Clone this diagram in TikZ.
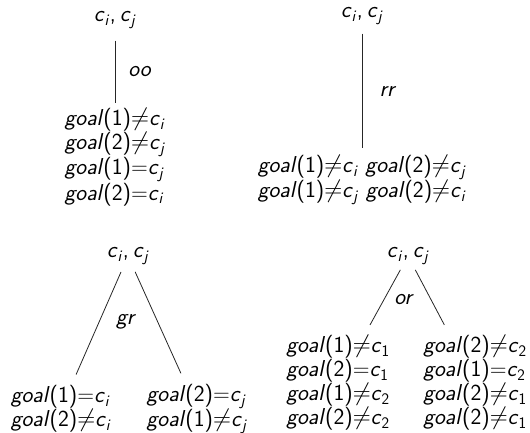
\documentclass[tikz,border=0pt]{standalone}
\usetikzlibrary{positioning}
\newcommand{\gl}[3]{\textit{goal}(#1)#2\textit{c}\textsubscript{#3}}
\newcommand{\cij}{\textit{c}\textsubscript{\textit{i}},\thinspace\textit{c}\textsubscript{\textit{j}}}

\begin{document}
\begin{tikzpicture}[
      x=1pt, y=-1pt,
      every node/.style={font=\fontsize{23}{21}\selectfont\sffamily, inner sep=0pt, outer sep=0pt},
      state/.style={anchor=center},
      leaf/.style={align=left, anchor=center},
      branch/.style={draw, line width=0.8pt, black!85}
    ]
      \useasboundingbox (0,0) rectangle (530,432);

      % oo
      \node[state] (ooRoot) at (115,20) {\cij};
      \node[leaf] (ooLeaf) at (115,157) {\gl{1}{$\neq$}{\textit{i}}\\\gl{2}{$\neq$}{\textit{j}}\\\gl{1}{=}{\textit{j}}\\\gl{2}{=}{\textit{i}}};
      \draw[branch, shorten <=12pt, shorten >=5pt] (ooRoot) -- (ooLeaf);
      \node (ooLabel) at (140,72) {\textit{oo}};

      % rr
      \node[state] (rrRoot) at (362,16) {\cij};
      \node[leaf, align=center] (rrLeaf) at (362,180) {\gl{1}{$\neq$}{\textit{i}} \gl{2}{$\neq$}{\textit{j}}\\\gl{1}{$\neq$}{\textit{j}} \gl{2}{$\neq$}{\textit{i}}};
      \draw[branch, shorten <=9pt, shorten >=7pt] (rrRoot) -- (rrLeaf);
      \node (rrLabel) at (388,91) {\textit{rr}};

      % gr
      \node[state] (grRoot) at (128,256) {\cij};
      \node[leaf] (grLeft) at (61,409) {\gl{1}{=}{\textit{i}}\\\gl{2}{$\neq$}{\textit{i}}};
      \node[leaf] (grRight) at (197,409) {\gl{2}{=}{\textit{j}}\\\gl{1}{$\neq$}{\textit{j}}};
      \draw[branch, shorten <=8pt, shorten >=12pt] (grRoot) -- (grLeft);
      \draw[branch, shorten <=8pt, shorten >=12pt] (grRoot) -- (grRight);
      \node (grLabel) at (126,322) {\textit{gr}};

      % or
      \node[state] (orRoot) at (408,256) {\cij};
      \node[leaf] (orLeft) at (338,383) {\gl{1}{$\neq$}{1}\\\gl{2}{=}{1}\\\gl{1}{$\neq$}{2}\\\gl{2}{$\neq$}{2}};
      \node[leaf] (orRight) at (475,383) {\gl{2}{$\neq$}{2}\\\gl{1}{=}{2}\\\gl{2}{$\neq$}{1}\\\gl{2}{$\neq$}{1}};
      \draw[branch, shorten <=6pt, shorten >=12pt] (orRoot) -- (orLeft);
      \draw[branch, shorten <=6pt, shorten >=12pt] (orRoot) -- (orRight);
      \node (orLabel) at (404,300) {\textit{or}};
    \end{tikzpicture}
\end{document}
